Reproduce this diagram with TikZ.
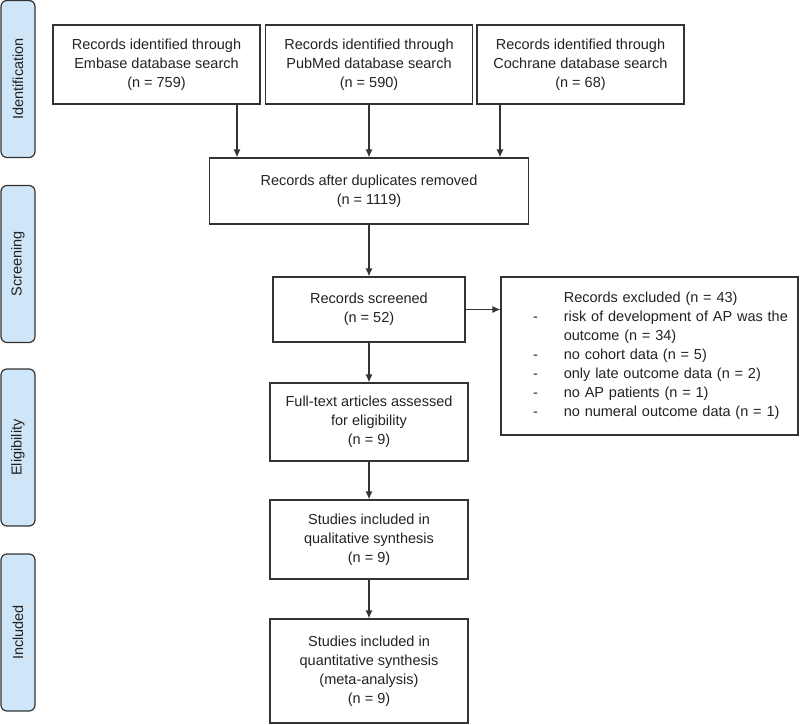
\documentclass[tikz,border=0pt]{standalone}
\usepackage{fontspec}
\setmainfont{Liberation Sans}
\usetikzlibrary{arrows.meta}

\definecolor{stageblue}{HTML}{CFE6F8}
\definecolor{linegray}{HTML}{333333}
\definecolor{textgray}{HTML}{222222}

\begin{document}
\begin{tikzpicture}[x=1pt, y=-1pt, font=\fontsize{14.5}{19}\selectfont, text=textgray,
    box/.style = {draw=linegray, line width=1.2pt, rectangle, align=center, inner sep=0pt},
    stage/.style = {draw=linegray, line width=1.2pt, fill=stageblue, rounded corners=6pt, rotate=90,
        minimum width=157pt, minimum height=34pt, inner sep=0pt},
    flow/.style = {draw=linegray, line width=1.2pt, -{Latex[length=8pt, width=7pt]}}]
    \useasboundingbox (0,0) rectangle (800,725);

    % stages on the left
    \node[stage] (ident) at (18,79) {Identification};
    \node[stage] (screen) at (18,264) {Screening};
    \node[stage] (elig) at (18,447.5) {Eligibility};
    \node[stage] (incl) at (18,632.5) {Included};

    % searches
    \node[box, minimum width=207pt, minimum height=79pt] (embase) at (156.5,64.5)
        {Records identified through\\Embase database search\\(n = 759)};
    \node[box, minimum width=207pt, minimum height=79pt] (pubmed) at (369,64.5)
        {Records identified through\\PubMed database search\\(n = 590)};
    \node[box, minimum width=207pt, minimum height=79pt] (cochrane) at (580.5,64.5)
        {Records identified through\\Cochrane database search\\(n = 68)};

    \node[box, minimum width=319pt, minimum height=66pt] (dup) at (369,191)
        {Records after duplicates removed\\(n = 1119)};
    \node[box, minimum width=192pt, minimum height=65pt] (screened) at (369,309.5)
        {Records screened\\(n = 52)};
    \node[box, minimum width=297pt, minimum height=158pt, text width=297pt, align=left] (excluded) at (649.5,356)
        {\begin{tabular}{@{\hspace{32pt}}l@{\hspace{26pt}}l@{}}
          & Records excluded (n = 43)\\
        - & risk of development of AP was the\\
          & outcome (n = 34)\\
        - & no cohort data (n = 5)\\
        - & only late outcome data (n = 2)\\
        - & no AP patients (n = 1)\\
        - & no numeral outcome data (n = 1)
        \end{tabular}};
    \node[box, minimum width=198pt, minimum height=78pt] (fulltext) at (369,422)
        {Full-text articles assessed\\for eligibility\\(n = 9)};
    \node[box, minimum width=198pt, minimum height=79pt] (qual) at (369,539.5)
        {Studies included in\\qualitative synthesis\\(n = 9)};
    \node[box, minimum width=198pt, minimum height=104pt] (quant) at (369,671)
        {Studies included in\\quantitative synthesis\\(meta-analysis)\\(n = 9)};

    \draw[flow] ([xshift=80.5pt]embase.south) -- ([xshift=80.5pt]embase.south |- dup.north);
    \draw[flow] (pubmed) -- (dup);
    \draw[flow] ([xshift=-80.5pt]cochrane.south) -- ([xshift=-80.5pt]cochrane.south |- dup.north);
    \draw[flow] (dup) -- (screened);
    \draw[flow] (screened) -- (excluded.west |- screened);
    \draw[flow] (screened) -- (fulltext);
    \draw[flow] (fulltext) -- (qual);
    \draw[flow] (qual) -- (quant);

\end{tikzpicture}
\end{document}
